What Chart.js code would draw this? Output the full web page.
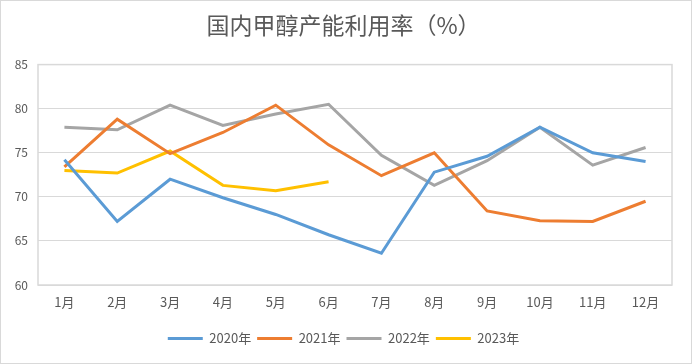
<!DOCTYPE html>
<html>
<head>
<meta charset="utf-8">
<script src="https://cdn.jsdelivr.net/npm/chart.js@4/dist/chart.umd.min.js"></script>
<style>
  html, body { margin: 0; padding: 0; background: #fff; }
  #wrap { width: 692px; height: 364px; }
</style>
</head>
<body>
<div id="wrap"><canvas id="chartCanvas" width="692" height="364"></canvas></div>
<script>
// chart data
const months = ['1月', '2月', '3月', '4月', '5月', '6月', '7月', '8月', '9月', '10月', '11月', '12月'];
const seriesNames = ['2020年', '2021年', '2022年', '2023年'];
const values2020 = [74.2, 67.2, 72.0, 69.9, 68.0, 65.7, 63.6, 72.8, 74.6, 77.9, 75.0, 74.0];
const values2021 = [73.4, 78.8, 74.9, 77.3, 80.4, 75.9, 72.4, 75.0, 68.4, 67.3, 67.2, 69.5];
const values2022 = [77.9, 77.6, 80.4, 78.1, 79.4, 80.5, 74.7, 71.3, 74.1, 77.9, 73.6, 75.6];
const values2023 = [73.0, 72.7, 75.2, 71.3, 70.7, 71.7];
const yTicks = [60, 65, 70, 75, 80, 85];

const colors = ['#5b9bd5', '#ed7d31', '#a5a5a5', '#ffc000'];
const fontFamily = '"Noto Sans CJK SC", "Noto Sans", sans-serif';
const textColor = '#595959';
const gridColor = '#d9d9d9';

// white background, outer frame and plot frame
const framePlugin = {
  id: 'frame',
  beforeDraw(chart) {
    const ctx = chart.ctx;
    ctx.save();
    ctx.fillStyle = '#fff';
    ctx.fillRect(0, 0, chart.width, chart.height);
    ctx.strokeStyle = gridColor;
    ctx.lineWidth = 1;
    ctx.strokeRect(0.5, 0.5, chart.width - 1, chart.height - 1);
    ctx.restore();
  },
  beforeDatasetsDraw(chart) {
    const a = chart.chartArea;
    const ctx = chart.ctx;
    ctx.save();
    ctx.strokeStyle = gridColor;
    ctx.lineWidth = 1.5;
    ctx.strokeRect(a.left, a.top, a.right - a.left, a.bottom - a.top);
    ctx.restore();
  }
};

const allSeries = [values2020, values2021, values2022, values2023];
let datasets = [];
for (let i = 0; i < allSeries.length; i++) {
  datasets.push({
    label: seriesNames[i],
    data: allSeries[i],
    borderColor: colors[i],
    backgroundColor: colors[i],
    borderWidth: 3,
    pointRadius: 0,
    pointStyle: 'line',
    tension: 0,
    fill: false
  });
}

Chart.defaults.font.family = fontFamily;
Chart.defaults.color = textColor;

new Chart(document.getElementById('chartCanvas'), {
  type: 'line',
  data: { labels: months, datasets: datasets },
  options: {
    responsive: false,
    animation: false,
    layout: { padding: { left: 0, right: 5, top: 0, bottom: 9 } },
    plugins: {
      title: {
        display: true,
        text: '国内甲醇产能利用率（%）',
        color: textColor,
        font: { size: 23, weight: 'normal', family: fontFamily },
        padding: { top: 11, bottom: 26 }
      },
      legend: {
        position: 'bottom',
        labels: {
          usePointStyle: true,
          pointStyleWidth: 35,
          boxHeight: 12,
          padding: 6,
          color: textColor,
          font: { size: 13 }
        }
      },
      tooltip: { enabled: false }
    },
    scales: {
      x: {
        offset: true,
        grid: { display: false, drawTicks: false },
        border: { display: false },
        ticks: { color: textColor, font: { size: 13 }, padding: 9, maxRotation: 0 },
        afterFit(scale) { scale.height = 41; }
      },
      y: {
        min: 60,
        max: 85,
        afterBuildTicks(scale) { scale.ticks = yTicks.map(v => ({ value: v })); },
        grid: { color: gridColor, drawTicks: false },
        border: { display: false },
        ticks: { color: textColor, font: { size: 12 }, padding: 10 },
        afterFit(scale) { scale.width = 38; }
      },
      // empty spacer on the right so title and legend stay centred on the page
      spacer: {
        position: 'right',
        min: 0,
        max: 1,
        grid: { display: false, drawTicks: false },
        border: { display: false },
        ticks: { display: false },
        afterFit(scale) { scale.width = 15; }
      }
    }
  },
  plugins: [framePlugin]
});
</script>
</body>
</html>
